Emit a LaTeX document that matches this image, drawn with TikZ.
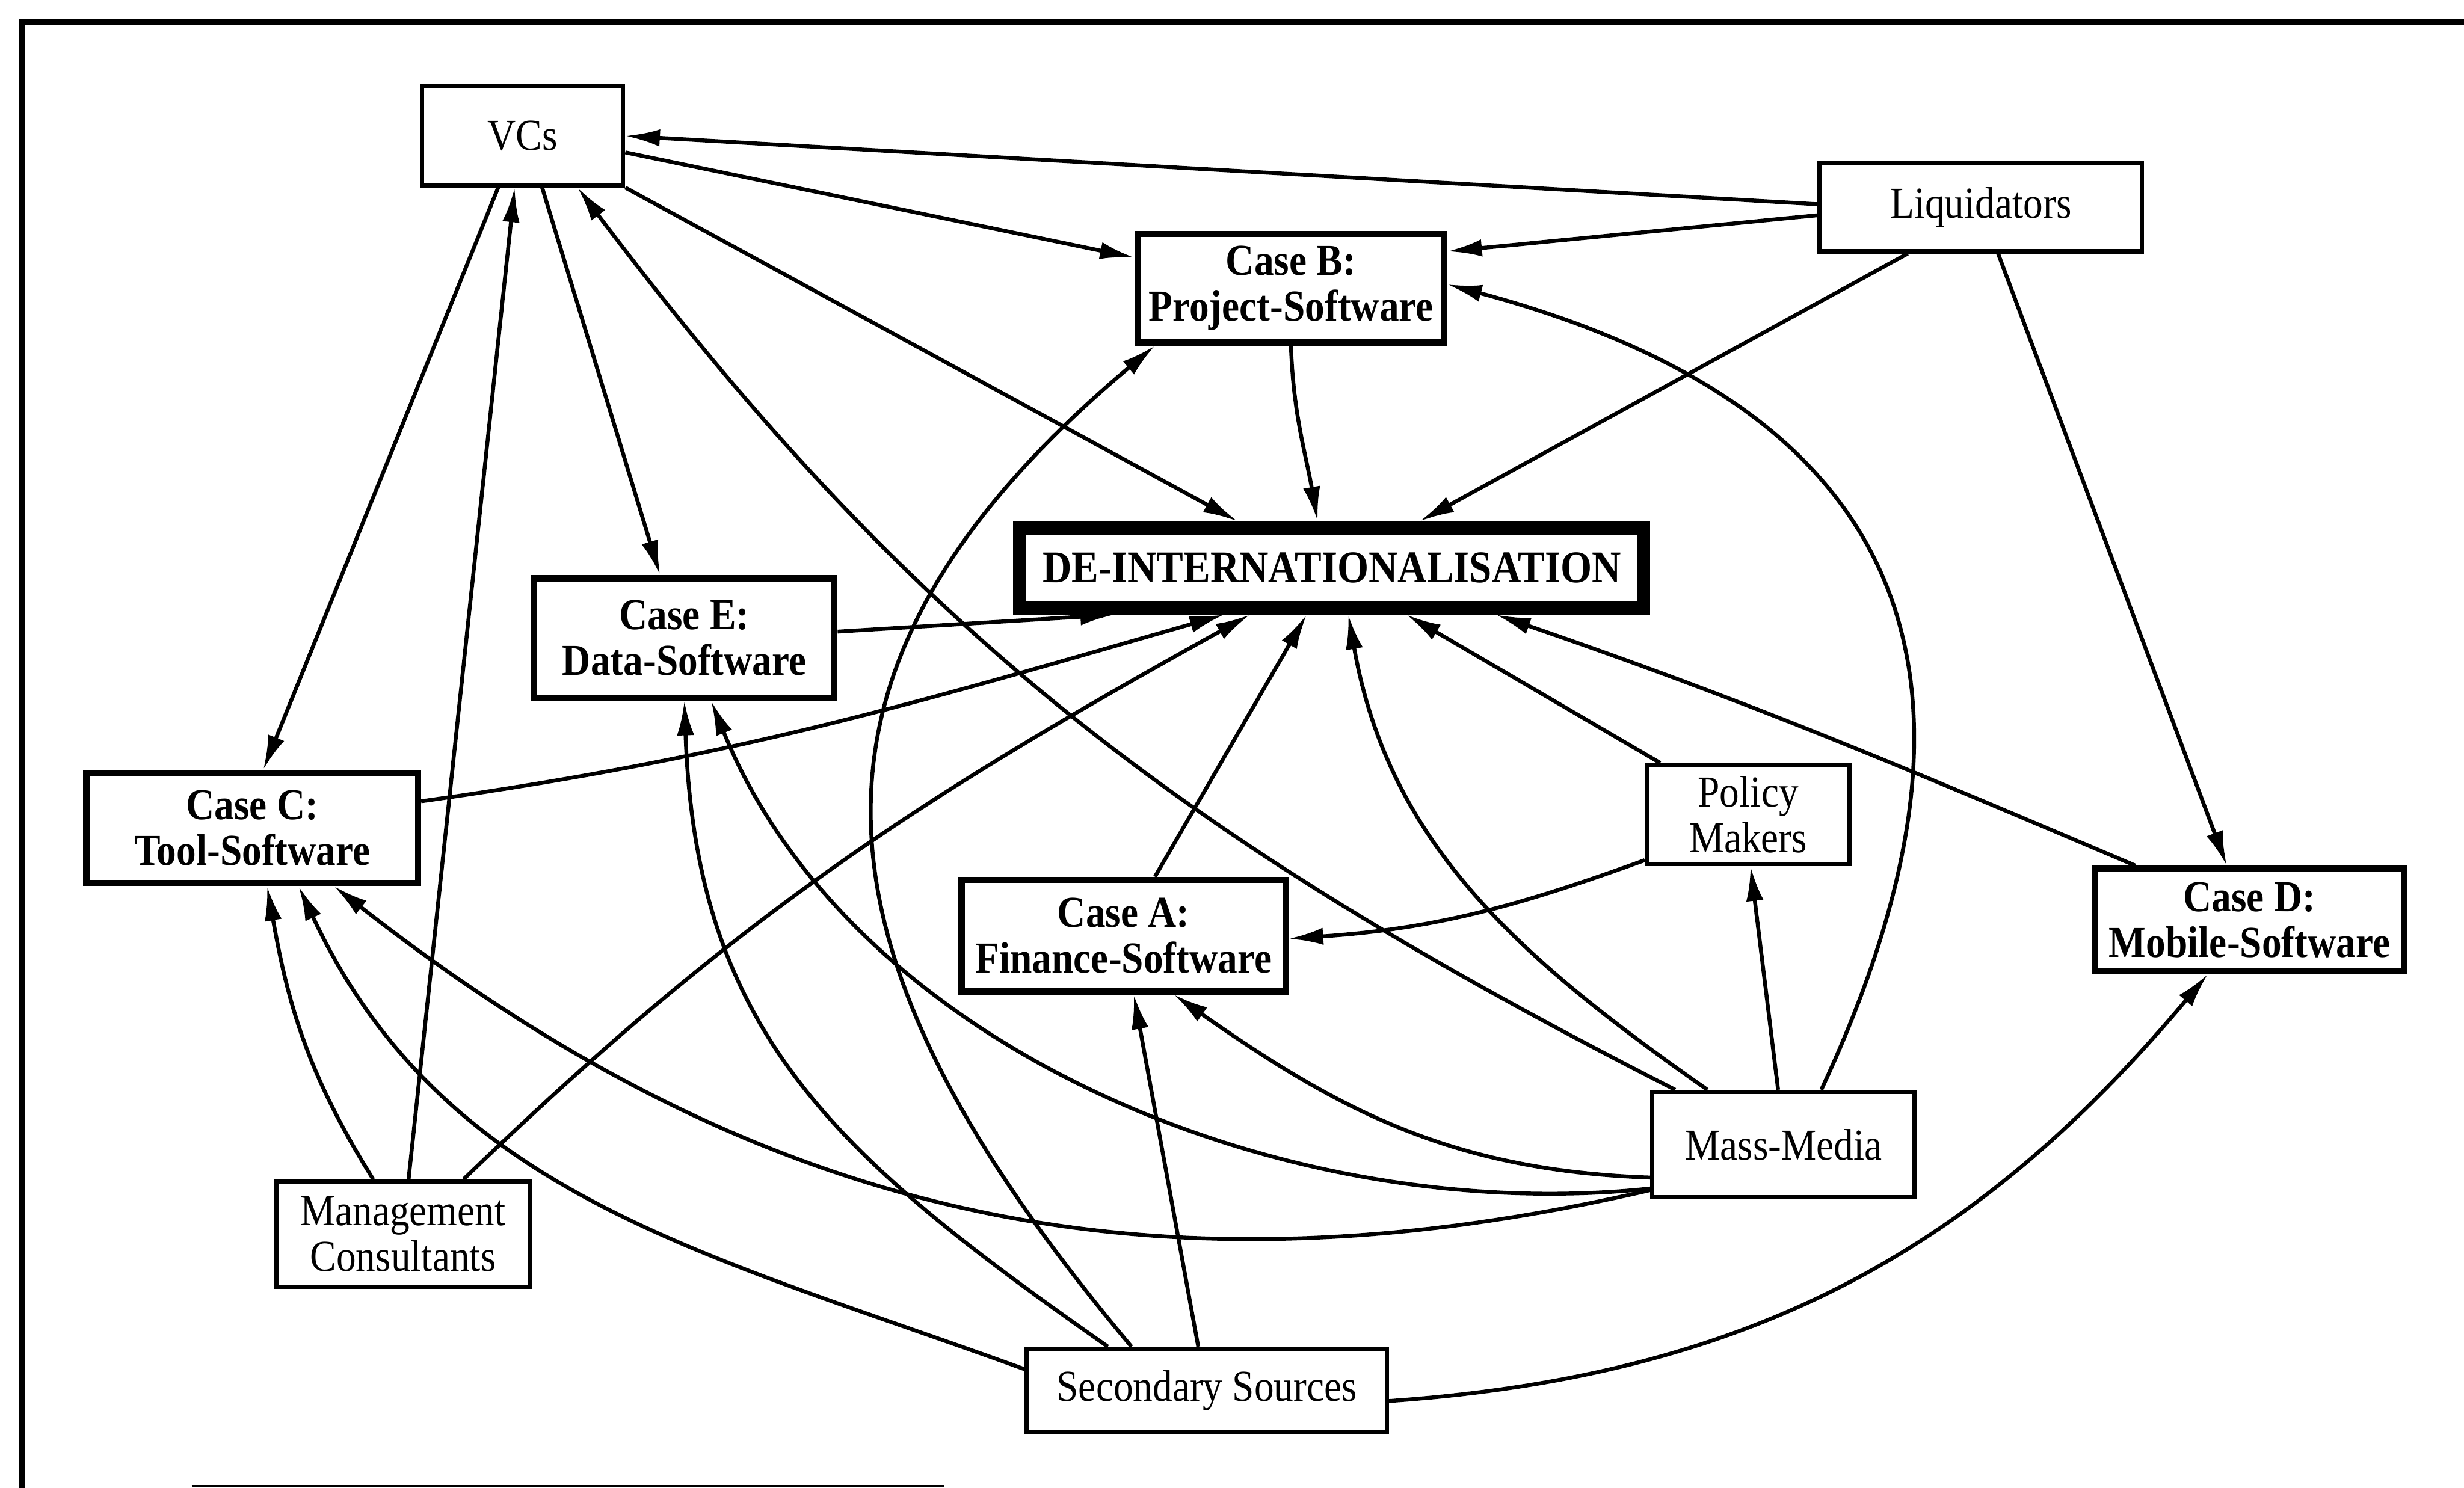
\documentclass[tikz,border=0pt]{standalone}
\usepackage{fontspec}
\setmainfont{Liberation Serif}[FakeStretch=0.89]
\usetikzlibrary{arrows.meta}
\tikzset{
  actor/.style={draw, line width=.8pt, inner sep=0pt, align=center, font=\fontsize{8}{8.3}\selectfont},
  casebox/.style={actor, line width=1.15pt, font=\bfseries\fontsize{8}{8.3}\selectfont},
  centrebox/.style={actor, line width=2.4pt, font=\bfseries\fontsize{8.2}{9}\selectfont},
  link/.style={-{Latex[length=2.2mm,width=1.1mm]}, line width=.7pt}
}
\begin{document}
\begin{tikzpicture}
    \fill[white] (0,0) rectangle (15.68,9.47);
    \useasboundingbox (0,0) rectangle (15.68,9.47);
    \draw[line width=1.05pt] (15.8,9.329) -- (0.141,9.329) -- (0.141,-0.1);
    \draw[line width=.5pt] (1.22,0.01) -- (6.01,0.01);

    \node[actor, minimum width=1.28cm, minimum height=.63cm] (vcs) at (3.325,8.605){VCs};
    \node[actor, minimum width=2.05cm, minimum height=.56cm] (liq) at (12.605,8.15){Liquidators};
    \node[casebox, minimum width=1.95cm, minimum height=.69cm] (caseb) at (8.215,7.635){Case B:\\Project-Software};
    \node[centrebox, minimum width=3.97cm, minimum height=.51cm] (deint) at (8.475,5.855){DE-INTERNATIONALISATION};
    \node[casebox, minimum width=1.91cm, minimum height=.76cm] (casee) at (4.355,5.41){Case E:\\Data-Software};
    \node[casebox, minimum width=2.11cm, minimum height=.70cm] (casec) at (1.605,4.20){Case C:\\Tool-Software};
    \node[actor, minimum width=1.29cm, minimum height=.63cm] (policy) at (11.125,4.285){Policy\\Makers};
    \node[casebox, minimum width=2.06cm, minimum height=.71cm] (casea) at (7.15,3.515){Case A:\\Finance-Software};
    \node[casebox, minimum width=1.97cm, minimum height=.65cm] (cased) at (14.315,3.615){Case D:\\Mobile-Software};
    \node[actor, minimum width=1.67cm, minimum height=.67cm] (media) at (11.35,2.185){Mass-Media};
    \node[actor, minimum width=1.61cm, minimum height=.67cm] (mgmt) at (2.565,1.615){Management\\Consultants};
    \node[actor, minimum width=2.29cm, minimum height=.53cm] (secsrc) at (7.68,0.62){Secondary Sources};

    \draw[link] ([yshift=.02cm]liq.west) -- (vcs.east);
    \draw[link] ([yshift=-.05cm]liq.west) -- ([yshift=.235cm]caseb.east);
    \draw[link] ([xshift=-.465cm]liq.south) -- ([xshift=.56cm]deint.north);
    \draw[link] ([xshift=.11cm]liq.south) -- ([xshift=-.145cm]cased.north);
    \draw[link] ([yshift=-.105cm]vcs.east) -- ([yshift=.195cm]caseb.west);
    \draw[link] (vcs.south east) -- ([xshift=-.6cm]deint.north);
    \draw[link] ([xshift=.125cm]vcs.south) -- ([xshift=-.155cm]casee.north);
    \draw[link] ([xshift=-.155cm]vcs.south) -- ([xshift=.07cm]casec.north);
    \draw[link] ([xshift=.035cm]mgmt.north) -- ([xshift=-.05cm]vcs.south);
    \draw[link] ([xshift=-.69cm]media.north) to[out=153,in=-53] ([xshift=.35cm]vcs.south);
    \draw[link] (caseb.south) to[out=-88,in=100] ([xshift=-.09cm]deint.north);

    \draw[link] ([yshift=.04cm]casee.east) -- ([xshift=-1.38cm]deint.south);
    \draw[link] ([yshift=.17cm]casec.east) to[out=8,in=196] ([xshift=-.685cm]deint.south);
    \draw[link] ([xshift=.385cm]mgmt.north) to[out=44,in=209] ([xshift=-.52cm]deint.south);
    \draw[link] ([xshift=.2cm]casea.north) -- ([xshift=-.16cm]deint.south);
    \draw[link] ([xshift=-.485cm]media.north) to[out=145,in=-80] ([xshift=.105cm]deint.south);
    \draw[link] ([xshift=-.56cm]policy.north) -- ([xshift=.475cm]deint.south);
    \draw[link] ([xshift=-.725cm]cased.north) to[out=157,in=-19] ([xshift=1.045cm]deint.south);

    \draw[link] ([yshift=-.29cm]policy.west) to[out=200,in=4] ([yshift=-.02cm]casea.east);
    \draw[link] ([xshift=-.035cm]media.north) -- ([xshift=.015cm]policy.south);
    \draw[link] ([xshift=.24cm]media.north) to[out=65,in=-15,looseness=1.35] ([yshift=.025cm]caseb.east);
    \draw[link] ([yshift=-.28cm]media.west) to[out=186,in=-68,looseness=.9] ([xshift=.17cm]casee.south);
    \draw[link] ([yshift=-.21cm]media.west) to[out=178,in=-35] ([xshift=.32cm]casea.south);
    \draw[link] ([yshift=-.29cm]media.west) to[out=193,in=-38] ([xshift=.52cm]casec.south);

    \draw[link] ([xshift=-.48cm]secsrc.north) to[out=130,in=220,looseness=1.3] ([xshift=-.865cm]caseb.south);
    \draw[link] ([xshift=-.63cm]secsrc.north) to[out=145,in=-88,looseness=1.1] (casee.south);
    \draw[link] ([yshift=.135cm]secsrc.west) to[out=160,in=-65] ([xshift=.295cm]casec.south);
    \draw[link] ([xshift=-.055cm]secsrc.north) -- ([xshift=.065cm]casea.south);
    \draw[link] ([yshift=-.067cm]secsrc.east) to[out=4,in=230] ([xshift=-.265cm]cased.south);
    \draw[link] ([xshift=-.19cm]mgmt.north) to[out=122,in=-80] ([xshift=.095cm]casec.south);
\end{tikzpicture}
\end{document}
